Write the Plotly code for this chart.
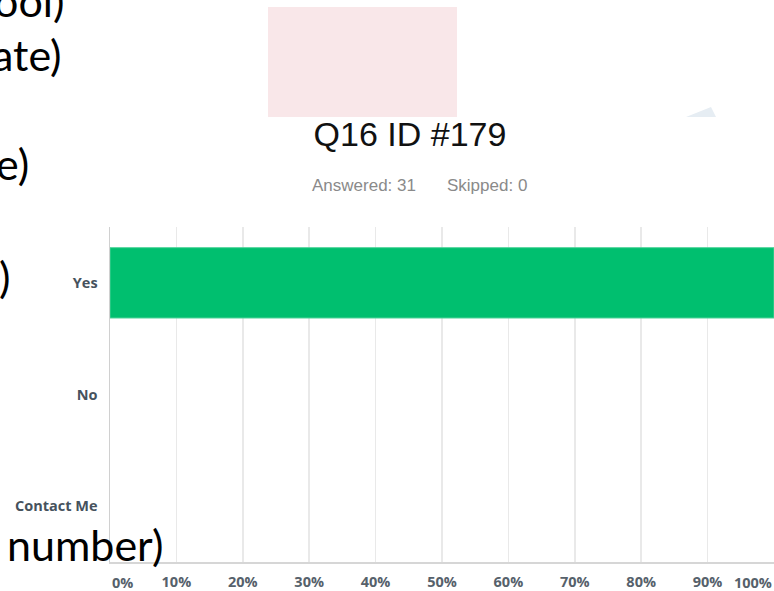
import plotly.graph_objects as go

# ---- data ----
categories = ["Yes", "No", "Contact Me"]
percent_values = [100, 0, 0]
tick_values = [0, 10, 20, 30, 40, 50, 60, 70, 80, 90, 100]
tick_labels = ["0%", "10%", "20%", "30%", "40%", "50%", "60%", "70%", "80%", "90%", "100%"]
title_text = "Q16 ID #179"
subtitle_left = "Answered: 31"
subtitle_right = "Skipped: 0"
slide_fragments = ["ool)", "ate)", "e)", ")", "number)"]

W, H = 774, 591
ML, MR, MT, MB = 110, 0, 227, 29
PW, PH = W - ML - MR, H - MT - MB


def px(x):
    return (x - ML) / PW


def py(y):
    return (H - MB - y) / PH


fig = go.Figure()
fig.add_trace(go.Bar(
    x=percent_values, y=categories, orientation="h",
    width=0.63,
    marker=dict(color="#00bf6f",
                line=dict(color="#4fd39a", width=[1 if v > 0 else 0 for v in percent_values])),
    hoverinfo="skip",
))

inner_vals = tick_values[1:-1]
inner_labels = tick_labels[1:-1]

tick_font = dict(family="Open Sans, sans-serif", size=14.5, color="#56616b", weight="bold")

fig.update_layout(
    width=W, height=H, autosize=False,
    margin=dict(l=ML, r=MR, t=MT, b=MB, pad=0, autoexpand=False),
    paper_bgcolor="white", plot_bgcolor="white",
    showlegend=False,
    title=dict(
        text=title_text, xref="container", yref="container",
        x=410 / W, y=1 - 134 / H, xanchor="center", yanchor="middle",
        font=dict(family="Liberation Sans, Arial, sans-serif", size=34, color="#111111"),
        automargin=False,
    ),
    xaxis=dict(
        range=[0, 100], fixedrange=True, automargin=False,
        tickvals=inner_vals, ticktext=inner_labels,
        ticks="", showgrid=True, gridcolor="#e9e9e9", gridwidth=1.5,
        zeroline=False, showline=True, linecolor="#d6d6d6", linewidth=2,
        tickfont=tick_font, ticklabelstandoff=6,
    ),
    yaxis=dict(
        autorange="reversed", ticks="", showgrid=False, zeroline=False, fixedrange=True,
        automargin=False,
        showline=True, linecolor="#d0d0d0", linewidth=1.5,
        tickfont=dict(family="Open Sans, sans-serif", size=14.5, color="#46525d", weight="bold"),
        ticklabelstandoff=8,
    ),
)

# end tick labels (0% left-aligned, 100% right-aligned at the plot edges)
for val, lab, anchor in [(tick_values[0], tick_labels[0], "left"),
                         (tick_values[-1], tick_labels[-1], "right")]:
    fig.add_annotation(
        x=val, y=py(582), xref="x", yref="paper", text=lab, showarrow=False,
        xanchor=anchor, yanchor="middle", font=tick_font,
    )

# subtitle
sub_font = dict(family="Liberation Sans, Arial, sans-serif", size=17, color="#8a8a8a")
fig.add_annotation(x=px(310), y=py(185), xref="paper", yref="paper", text=subtitle_left,
                   showarrow=False, xanchor="left", yanchor="middle", font=sub_font)
fig.add_annotation(x=px(445), y=py(185), xref="paper", yref="paper", text=subtitle_right,
                   showarrow=False, xanchor="left", yanchor="middle", font=sub_font)

# pink block from the slide
fig.add_shape(type="rect", xref="paper", yref="paper",
              x0=px(268), x1=px(457), y0=py(117), y1=py(7),
              fillcolor="#f9e7e9", line=dict(width=0), layer="above")
# faint slide artefact near the top right
fig.add_shape(type="path", xref="paper", yref="paper",
              path=f"M {px(686)} {py(117)} L {px(711)} {py(107)} L {px(716)} {py(117)} Z",
              fillcolor="#e6edf3", line=dict(width=0), layer="above")

# slide text fragments at the left edge (right-aligned at their end points)
frag_right = [65, 63, 30, 11, 164]
frag_center = [1, 54, 164, 276, 544]
frag_font = dict(family="Lato, Open Sans, sans-serif", size=43, color="#000000")
for t, xr, yc in zip(slide_fragments, frag_right, frag_center):
    fig.add_annotation(x=px(xr), y=py(yc), xref="paper", yref="paper", text=t,
                       showarrow=False, xanchor="right", yanchor="middle",
                       font=frag_font, borderpad=0)

fig.write_html(
    "out.html",
    config={"displayModeBar": False, "staticPlot": True},
    post_script="document.body.style.margin='0';document.body.style.overflow='hidden';",
)
